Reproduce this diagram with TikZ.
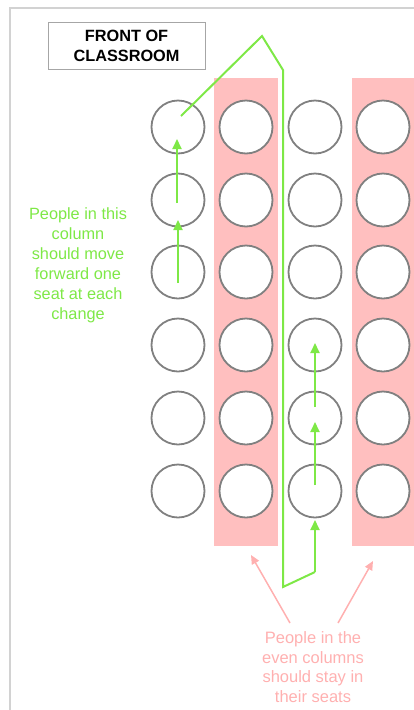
\documentclass[tikz,border=0pt]{standalone}
\usepackage{fontspec}
\setmainfont{Liberation Sans}
\usetikzlibrary{arrows.meta}
\definecolor{seatgray}{HTML}{808080}
\definecolor{evenpink}{HTML}{FFBFBF}
\definecolor{movegreen}{HTML}{7EE846}
\definecolor{pinktext}{HTML}{FFB0B0}
\definecolor{framegray}{HTML}{D2D2D2}
\tikzset{
  seat/.style={circle,draw=seatgray,line width=1.8pt,minimum size=53pt,inner sep=0pt,fill=white},
  evencol/.style={fill=evenpink,draw=none},
  movearrow/.style={draw=movegreen,line width=2pt,-{Triangle[length=10pt,width=9pt]}},
  moveline/.style={draw=movegreen,line width=2pt},
  stayarrow/.style={draw=pinktext,line width=1.5pt,-{Triangle[length=9pt,width=8pt]}},
  greentxt/.style={text=movegreen,font=\fontsize{16.3}{20}\selectfont,align=center,inner sep=0pt},
  pinktxt/.style={text=pinktext,font=\fontsize{16.5}{19.5}\selectfont,align=center,inner sep=0pt},
  titlebox/.style={draw=seatgray!70,line width=1pt,minimum width=157pt,minimum height=47pt,font=\fontsize{16.3}{20}\selectfont\bfseries,align=center}
}
\begin{document}
\begin{tikzpicture}[x=1pt,y=-1pt]
\useasboundingbox (0,0) rectangle (414,710);
% outer frame
\draw[framegray,line width=2pt] (10,730) -- (10,8) -- (430,8);
% even columns
\fill[evencol] (214,78) rectangle (278,546);
\fill[evencol] (352,78) rectangle (420,546);
% title
\node[titlebox] (title) at (126.5,45.5) {FRONT OF\\CLASSROOM};
% seats
\foreach \c/\x in {1/178,2/246,3/315,4/383}{
  \foreach \r/\y in {1/127,2/200,3/272,4/345,5/418,6/491}{
    \node[seat] (s\c\r) at (\x,\y) {};
  }
}
% green path
\coordinate (p0) at (181,116);
\coordinate (p1) at (262,36);
\coordinate (p2) at (283,70);
\coordinate (p3) at (283,587);
\coordinate (p4) at (315,572);
\coordinate (p5) at (315,520);
\draw[moveline] (p0) -- (p1) -- (p2) -- (p3) -- (p4);
\draw[movearrow] (p4) -- (p5);
% column 3 arrows
\coordinate (a1) at (315,485); \coordinate (a2) at (315,422);
\coordinate (a3) at (315,407); \coordinate (a4) at (315,343);
\draw[movearrow] (a1) -- (a2);
\draw[movearrow] (a3) -- (a4);
% column 1 arrows
\coordinate (b1) at (178,283); \coordinate (b2) at (178,220);
\coordinate (b3) at (177,203); \coordinate (b4) at (177,139);
\draw[movearrow] (b1) -- (b2);
\draw[movearrow] (b3) -- (b4);
% green text
\node[greentxt] (gtext) at (78,265) {People in this\\column\\should move\\forward one\\seat at each\\change};
% pink text and arrows
\node[pinktxt] (ptext) at (313,667) {People in the\\even columns\\should stay in\\their seats};
\coordinate (q1) at (290,623); \coordinate (q2) at (251,555);
\coordinate (q3) at (338,623); \coordinate (q4) at (373,561);
\draw[stayarrow] (q1) -- (q2);
\draw[stayarrow] (q3) -- (q4);
\end{tikzpicture}
\end{document}
